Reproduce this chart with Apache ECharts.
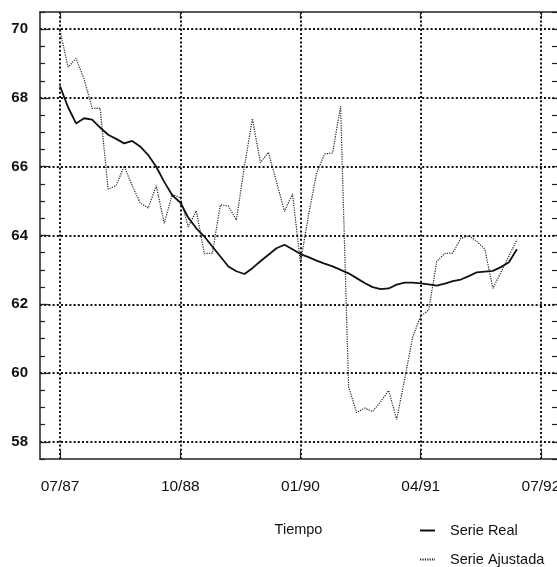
<!DOCTYPE html>
<html>
<head>
<meta charset="utf-8">
<script src="https://cdn.jsdelivr.net/npm/echarts@6/dist/echarts.min.js"></script>
<style>
html,body{margin:0;padding:0;background:#fff;}
#chart{width:557px;height:567px;}
</style>
</head>
<body>
<div id="chart"></div>
<script>
var months = ['07/87','08/87','09/87','10/87','11/87','12/87',
  '01/88','02/88','03/88','04/88','05/88','06/88','07/88','08/88','09/88','10/88','11/88','12/88',
  '01/89','02/89','03/89','04/89','05/89','06/89','07/89','08/89','09/89','10/89','11/89','12/89',
  '01/90','02/90','03/90','04/90','05/90','06/90','07/90','08/90','09/90','10/90','11/90','12/90',
  '01/91','02/91','03/91','04/91','05/91','06/91','07/91','08/91','09/91','10/91','11/91','12/91',
  '01/92','02/92','03/92','04/92'];

var serieReal = [68.34,67.73,67.26,67.41,67.37,67.14,66.93,66.81,66.68,66.75,
  66.59,66.34,66.00,65.56,65.17,64.96,64.52,64.21,63.97,63.68,
  63.39,63.10,62.96,62.88,63.05,63.25,63.44,63.63,63.73,63.60,
  63.46,63.37,63.27,63.18,63.10,63.00,62.90,62.76,62.62,62.50,
  62.44,62.46,62.57,62.63,62.63,62.61,62.58,62.54,62.60,62.67,
  62.72,62.82,62.93,62.95,62.97,63.08,63.22,63.60];

var serieAjustada = [69.95,68.90,69.15,68.55,67.70,67.70,65.35,65.45,66.02,65.45,
  64.95,64.80,65.45,64.35,65.20,65.10,64.25,64.72,63.47,63.49,
  64.89,64.86,64.45,66.00,67.40,66.12,66.42,65.56,64.70,65.21,
  63.20,64.60,65.80,66.37,66.40,67.76,59.60,58.85,58.98,58.88,
  59.17,59.49,58.65,59.83,61.05,61.66,61.83,63.25,63.48,63.49,
  63.92,63.99,63.83,63.60,62.46,62.93,63.40,63.88];

var xTickMonths = [0, 15, 30, 45, 60];
var xTickLabels = ['07/87','10/88','01/90','04/91','07/92'];
var yTickValues = [58, 60, 62, 64, 66, 68, 70];

var FONT = "'Liberation Sans', Arial, sans-serif";

var realData = months.map(function (m, i) { return [i, serieReal[i]]; });
var ajustData = months.map(function (m, i) { return [i, serieAjustada[i]]; });

var gridDots = { color: '#111', width: 2, type: [2, 2.2], cap: 'butt' };
var tickStyle = { color: '#222', width: 1.2 };

function legendBox(name, top) {
  return {
    orient: 'vertical',
    left: 419,
    top: top,
    padding: 0,
    itemWidth: 15,
    itemHeight: 14,
    data: [name],
    itemStyle: { opacity: 0 },
    textStyle: { fontFamily: FONT, fontSize: 14.5, color: '#111', padding: [0, 0, 0, 10] },
    selectedMode: false
  };
}

var chart = echarts.init(document.getElementById('chart'), null, { renderer: 'canvas' });
chart.setOption({
  backgroundColor: '#ffffff',
  animation: false,
  grid: { left: 40, top: 12, width: 517, height: 447, outerBoundsMode: 'none', containLabel: false },
  legend: [legendBox('Serie Real', 523), legendBox('Serie Ajustada', 552)],
  xAxis: [{
    type: 'value',
    position: 'bottom',
    min: -2.5,
    max: 62,
    name: 'Tiempo',
    nameLocation: 'middle',
    nameGap: 63,
    nameTextStyle: { fontFamily: FONT, fontSize: 14.5, color: '#111' },
    axisLine: { show: true, onZero: false, lineStyle: { color: '#222', width: 1.5 } },
    axisTick: { show: true, inside: true, length: 8, customValues: xTickMonths, lineStyle: tickStyle },
    axisLabel: {
      show: true, customValues: xTickMonths, margin: 20,
      fontFamily: FONT, fontSize: 15.5, color: '#111',
      formatter: function (v) { var k = xTickMonths.indexOf(v); return k >= 0 ? xTickLabels[k] : ''; }
    },
    splitLine: { show: true, lineStyle: gridDots }
  }, {
    type: 'value',
    position: 'top',
    min: -2.5,
    max: 62,
    axisLine: { show: true, onZero: false, lineStyle: { color: '#222', width: 1.5 } },
    axisTick: { show: true, inside: true, length: 7, customValues: xTickMonths, lineStyle: tickStyle },
    axisLabel: { show: false },
    splitLine: { show: false }
  }],
  yAxis: [{
    type: 'value',
    position: 'left',
    min: 57.5,
    max: 70.5,
    axisLine: { show: true, onZero: false, lineStyle: { color: '#222', width: 1.5 } },
    axisTick: { show: true, inside: true, length: 9, customValues: yTickValues, lineStyle: tickStyle },
    axisLabel: {
      show: true, customValues: yTickValues, margin: 12,
      fontFamily: FONT, fontSize: 15, fontWeight: 'bold', color: '#111'
    },
    splitLine: { show: true, lineStyle: gridDots }
  }, {
    type: 'value',
    position: 'left',
    min: 57.5,
    max: 70.5,
    interval: 0.5,
    axisLine: { show: false, onZero: false },
    axisTick: { show: true, inside: true, length: 5, lineStyle: tickStyle },
    axisLabel: { show: false },
    splitLine: { show: false }
  }, {
    type: 'value',
    position: 'right',
    min: 57.5,
    max: 70.5,
    interval: 0.5,
    axisLine: { show: false, onZero: false },
    axisTick: { show: true, inside: true, length: 5, lineStyle: tickStyle },
    axisLabel: { show: false },
    splitLine: { show: false }
  }],
  series: [{
    name: 'Serie Real',
    type: 'line',
    xAxisIndex: 0,
    yAxisIndex: 0,
    data: realData,
    symbol: 'none',
    lineStyle: { color: '#111', width: 1.8 },
    itemStyle: { color: '#111' },
    z: 5
  }, {
    name: 'Serie Ajustada',
    type: 'line',
    xAxisIndex: 0,
    yAxisIndex: 0,
    data: ajustData,
    symbol: 'none',
    lineStyle: { color: '#222', width: 1.2, type: [1.2, 1.2] },
    itemStyle: { color: '#222' },
    z: 4
  }]
});
</script>
</body>
</html>
